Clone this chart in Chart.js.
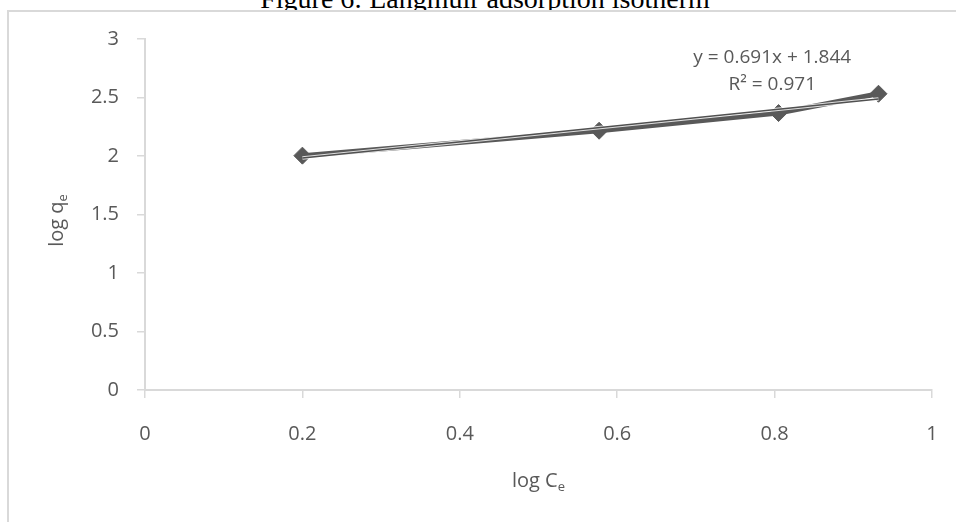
<!DOCTYPE html>
<html>
<head>
<meta charset="utf-8">
<title>Langmuir adsorption isotherm</title>
<script src="https://cdn.jsdelivr.net/npm/chart.js@4.4.1/dist/chart.umd.min.js"></script>
<style>
  body { margin: 0; width: 956px; height: 522px; overflow: hidden; background: #fff; position: relative; }
  #caption { position: absolute; left: 0; top: -15px; width: 970px; text-align: center;
             font: 28px/28px "Liberation Serif", "Times New Roman", serif; color: #000; white-space: nowrap; }
  #frame { position: absolute; left: 7px; top: 10px; width: 960px; height: 520px; background: #fff;
           border-left: 2px solid #d9d9d9; border-top: 2px solid #d9d9d9; }
  #chart { position: absolute; left: 0; top: 0; }
</style>
</head>
<body>
<div id="caption">Figure 6: Langmuir adsorption isotherm</div>
<div id="frame"></div>
<canvas id="chart" width="956" height="522"></canvas>
<script>
// measured points
const logCe = [0.2, 0.577, 0.805, 0.932];
const logQe = [2.003, 2.216, 2.367, 2.532];

// linear fit reported on the chart
const slope = 0.691;
const intercept = 1.844;
const rSquared = 0.971;

const xRange = [0, 1];
const yRange = [0, 3];
const xStep = 0.2;
const yStep = 0.5;

const gray = "#595959";
const axisGray = "#d9d9d9";
const labelFont = '"Open Sans", "DejaVu Sans", sans-serif';

const points = logCe.map((x, i) => ({ x: x, y: logQe[i] }));
const fitEnds = [logCe[0], logCe[logCe.length - 1]];
const fitLine = fitEnds.map((x) => ({ x: x, y: slope * x + intercept }));

// plain number labels: 3, 2.5, 1, 0.5 ...
const plainTick = (v) => String(Number(v.toFixed(2)));

// draws "main" followed by a smaller subscript, centred on (cx, cy)
function drawSubscripted(ctx, main, sub, cx, cy) {
  ctx.font = "20px " + labelFont;
  const w1 = ctx.measureText(main).width;
  ctx.font = "13px " + labelFont;
  const w2 = ctx.measureText(sub).width;
  const x0 = cx - (w1 + w2) / 2;
  ctx.textAlign = "left";
  ctx.textBaseline = "alphabetic";
  ctx.font = "20px " + labelFont;
  ctx.fillText(main, x0, cy + 7);
  ctx.font = "13px " + labelFont;
  ctx.fillText(sub, x0 + w1, cy + 11);
}

const titlesPlugin = {
  id: "titles",
  afterDraw(chart) {
    const { ctx, chartArea, scales } = chart;
    ctx.save();
    ctx.fillStyle = gray;

    drawSubscripted(ctx, "log C", "e", (chartArea.left + chartArea.right) / 2, 480);

    ctx.save();
    ctx.translate(56, (chartArea.top + chartArea.bottom) / 2 + 6);
    ctx.rotate(-Math.PI / 2);
    drawSubscripted(ctx, "log q", "e", 0, 0);
    ctx.restore();

    // equation box sits above the last points
    const ex = scales.x.getPixelForValue(0.797);
    const ey = scales.y.getPixelForValue(2.84);
    ctx.font = "19px " + labelFont;
    ctx.textAlign = "center";
    ctx.textBaseline = "middle";
    ctx.fillText("y = " + slope.toFixed(3) + "x + " + intercept.toFixed(3), ex, ey);
    ctx.fillText("R\u00B2 = " + rSquared.toFixed(3), ex, ey + 27);
    ctx.restore();
  }
};

new Chart(document.getElementById("chart"), {
  type: "scatter",
  data: {
    datasets: [
      {
        label: "fit",
        data: fitLine,
        showLine: true,
        borderColor: "#505050",
        borderWidth: 1.5,
        pointRadius: 0,
        order: 0
      },
      {
        label: "fit halo",
        data: fitLine,
        showLine: true,
        borderColor: "rgba(255,255,255,0.8)",
        borderWidth: 3.5,
        pointRadius: 0,
        order: 1
      },
      {
        label: "log qe",
        data: points,
        showLine: true,
        borderColor: gray,
        borderWidth: 5,
        pointStyle: "rectRot",
        pointRadius: 8.5,
        pointBackgroundColor: gray,
        pointBorderColor: gray,
        pointBorderWidth: 1,
        order: 2
      }
    ]
  },
  options: {
    responsive: false,
    devicePixelRatio: 1,
    animation: false,
    layout: { padding: { top: 39, right: 24, left: 0, bottom: 0 } },
    plugins: {
      legend: { display: false },
      tooltip: { enabled: false }
    },
    scales: {
      x: {
        type: "linear",
        position: "bottom",
        min: xRange[0],
        max: xRange[1],
        ticks: {
          stepSize: xStep,
          color: gray,
          padding: 24,
          font: { family: labelFont, size: 20 },
          callback: plainTick
        },
        grid: { drawOnChartArea: false, drawTicks: true, tickLength: 8, color: axisGray, lineWidth: 1.5 },
        border: { color: axisGray, width: 2 },
        afterFit(scale) {
          scale.height = 132;
          scale.paddingLeft = 0;
          scale.paddingRight = 0;
        }
      },
      y: {
        type: "linear",
        min: yRange[0],
        max: yRange[1],
        ticks: {
          stepSize: yStep,
          color: gray,
          padding: 18,
          font: { family: labelFont, size: 20 },
          callback: plainTick
        },
        grid: { drawOnChartArea: false, drawTicks: true, tickLength: 8, color: axisGray, lineWidth: 1.5 },
        border: { color: axisGray, width: 2 },
        afterFit(scale) {
          scale.width = 145;
          scale.paddingTop = 0;
          scale.paddingBottom = 0;
        }
      }
    }
  },
  plugins: [titlesPlugin]
});
</script>
</body>
</html>
